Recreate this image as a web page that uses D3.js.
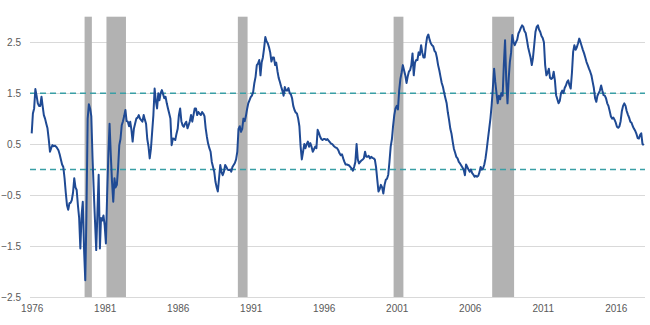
<!DOCTYPE html>
<html>
<head>
<meta charset="utf-8">
<script src="https://cdn.jsdelivr.net/npm/d3@7"></script>
<style>
  html, body { margin: 0; padding: 0; background: #ffffff; }
  svg { display: block; }
  .axis text { font-family: "Liberation Sans", Arial, sans-serif; font-size: 10px; fill: #595959; }
</style>
</head>
<body>
<svg id="chart" width="650" height="325"></svg>
<script>
// 10-year minus 2-year Treasury spread (percentage points), monthly, June 1976 – May 2018
const firstMonth = new Date(1976, 5, 1);
const spread = [
  /* 1976 Jun-Dec */ 0.71, 1.1, 1.2, 1.58, 1.45, 1.3, 1.25,
  /* 1977 */ 1.25, 1.43, 1.25, 1.07, 1.0, 0.9, 0.81, 0.6, 0.35, 0.42, 0.48, 0.46,
  /* 1978 */ 0.47, 0.45, 0.42, 0.38, 0.3, 0.2, 0.1, 0.05, -0.17, -0.45, -0.7, -0.79,
  /* 1979 */ -0.66, -0.65, -0.6, -0.45, -0.17, -0.35, -0.4, -0.7, -0.95, -1.55, -0.9, -0.63,
  /* 1980 */ -1.55, -2.17, -0.9, 1.0, 1.28, 1.2, 1.05, 0.22, -0.43, -1.0, -1.58, -0.85,
  /* 1981 */ -0.1, -1.55, -0.95, -1.0, -0.9, -1.1, -1.45, -0.5, 0.3, 0.9, 0.28, -0.24,
  /* 1982 */ -0.63, -0.17, -0.35, -0.3, 0.02, 0.48, 0.6, 0.87, 0.95, 1.05, 1.17, 0.95,
  /* 1983 */ 0.94, 0.85, 0.94, 0.78, 0.55, 0.8, 0.9, 1.0, 1.02, 1.07, 1.0, 0.97,
  /* 1984 */ 0.94, 1.07, 0.98, 0.9, 0.6, 0.45, 0.22, 0.41, 0.75, 1.07, 1.59, 1.35,
  /* 1985 */ 1.2, 1.5, 1.36, 1.5, 1.56, 1.48, 1.4, 1.43, 1.3, 1.2, 1.1, 1.0,
  /* 1986 */ 0.48, 0.61, 0.6, 0.58, 0.7, 0.8, 1.07, 1.2, 0.95, 0.87, 0.84, 0.9,
  /* 1987 */ 0.94, 0.81, 0.87, 0.95, 1.07, 0.94, 1.07, 1.2, 1.2, 1.07, 1.13, 1.1,
  /* 1988 */ 1.07, 1.13, 1.1, 1.05, 0.81, 0.64, 0.51, 0.42, 0.35, 0.15, 0.05, -0.04,
  /* 1989 */ -0.24, -0.35, -0.43, -0.17, 0.09, -0.05, -0.11, -0.04, 0.09, 0.05, 0.0, -0.01,
  /* 1990 */ 0.0, -0.04, 0.05, 0.09, 0.13, 0.2, 0.35, 0.8, 0.85, 0.74, 0.8, 1.0,
  /* 1991 */ 0.95, 1.05, 1.18, 1.3, 1.36, 1.42, 1.45, 1.52, 1.7, 1.82, 2.05, 2.08,
  /* 1992 */ 2.15, 1.85, 2.1, 2.2, 2.38, 2.6, 2.52, 2.48, 2.4, 2.3, 2.12, 2.2,
  /* 1993 */ 2.2, 2.05, 2.1, 1.93, 1.8, 1.72, 1.63, 1.55, 1.45, 1.62, 1.55, 1.55,
  /* 1994 */ 1.6, 1.5, 1.48, 1.4, 1.25, 1.17, 1.12, 1.1, 1.0, 0.85, 0.45, 0.2,
  /* 1995 */ 0.35, 0.5, 0.42, 0.5, 0.55, 0.45, 0.52, 0.45, 0.35, 0.4, 0.45, 0.42,
  /* 1996 */ 0.78, 0.72, 0.65, 0.6, 0.58, 0.6, 0.6, 0.58, 0.6, 0.57, 0.54, 0.51,
  /* 1997 */ 0.5, 0.47, 0.45, 0.43, 0.42, 0.38, 0.32, 0.28, 0.3, 0.22, 0.15, 0.1,
  /* 1998 */ 0.1, 0.09, 0.08, 0.05, 0.02, -0.02, 0.05, 0.15, 0.5, 0.2, 0.12, 0.15,
  /* 1999 */ 0.18, 0.2, 0.22, 0.35, 0.25, 0.25, 0.27, 0.22, 0.25, 0.23, 0.22, 0.2,
  /* 2000 */ 0.05, -0.2, -0.43, -0.38, -0.3, -0.35, -0.47, -0.3, -0.2, -0.18, -0.1, 0.15,
  /* 2001 */ 0.45, 0.6, 0.85, 1.07, 1.2, 1.25, 1.18, 1.55, 1.78, 1.9, 2.05, 1.95,
  /* 2002 */ 1.85, 1.7, 1.82, 1.92, 1.95, 2.05, 2.28, 1.85, 2.1, 2.15, 2.15, 2.3,
  /* 2003 */ 2.25, 2.44, 2.3, 2.2, 2.2, 2.44, 2.6, 2.65, 2.55, 2.48, 2.44, 2.42,
  /* 2004 */ 2.33, 2.3, 2.2, 2.05, 1.95, 1.82, 1.7, 1.62, 1.5, 1.4, 1.3, 1.12,
  /* 2005 */ 0.97, 0.8, 0.71, 0.55, 0.41, 0.33, 0.25, 0.22, 0.15, 0.12, 0.08, 0.04,
  /* 2006 */ 0.0, -0.11, 0.1, 0.05, 0.0, -0.04, 0.0, -0.07, -0.1, -0.14, -0.12, -0.14,
  /* 2007 */ -0.12, -0.05, 0.05, 0.0, 0.02, 0.1, 0.22, 0.4, 0.61, 0.8, 1.0, 1.26,
  /* 2008 */ 1.6, 1.98, 1.72, 1.5, 1.3, 1.45, 1.38, 1.5, 1.45, 2.05, 2.54, 1.75,
  /* 2009 */ 1.3, 1.8, 2.11, 2.3, 2.64, 2.5, 2.44, 2.5, 2.55, 2.67, 2.72, 2.78,
  /* 2010 */ 2.83, 2.8, 2.72, 2.68, 2.55, 2.4, 2.3, 2.2, 2.05, 2.2, 2.45, 2.7,
  /* 2011 */ 2.8, 2.83, 2.75, 2.7, 2.62, 2.58, 2.5, 2.05, 1.85, 1.9, 1.98, 1.8,
  /* 2012 */ 1.78, 1.8, 1.92, 1.75, 1.46, 1.38, 1.3, 1.35, 1.5, 1.55, 1.5, 1.6,
  /* 2013 */ 1.65, 1.72, 1.75, 1.65, 1.59, 1.9, 2.31, 2.44, 2.35, 2.4, 2.48, 2.57,
  /* 2014 */ 2.5, 2.42, 2.35, 2.28, 2.2, 2.11, 2.05, 1.98, 1.92, 1.85, 1.72, 1.6,
  /* 2015 */ 1.4, 1.33, 1.45, 1.5, 1.55, 1.65, 1.55, 1.46, 1.45, 1.4, 1.3, 1.25,
  /* 2016 */ 1.15, 1.04, 1.0, 1.02, 0.98, 0.92, 0.84, 0.82, 0.85, 0.95, 1.15, 1.25,
  /* 2017 */ 1.3, 1.25, 1.15, 1.08, 1.02, 0.94, 0.92, 0.85, 0.8, 0.76, 0.7, 0.62,
  /* 2018 Jan-May */ 0.61, 0.68, 0.71, 0.5, 0.48
];

// Recession periods (shaded)
const recessionStarts = ["1980-01-15", "1981-07-15", "1990-07-15", "2001-03-15", "2007-12-15"];
const recessionEnds   = ["1980-07-15", "1982-11-15", "1991-03-15", "2001-11-15", "2009-06-15"];

// Reference levels (dashed)
const referenceLevels = [1.5, 0];

// Axis labels
const yTicks = [2.5, 1.5, 0.5, -0.5, -1.5, -2.5];
const xTickYears = [1976, 1981, 1986, 1991, 1996, 2001, 2006, 2011, 2016];

const svg = d3.select("#chart");
const parse = d3.timeParse("%Y-%m-%d");

const series = spread.map((v, i) => ({ date: d3.timeMonth.offset(firstMonth, i), value: v }));

const x = d3.scaleTime()
  .domain([firstMonth, series[series.length - 1].date])
  .range([31.7, 643.7]);

const y = d3.scaleLinear()
  .domain([-2.5, 3.0])
  .range([297, 16.7]);

const plotLeft = 30, plotRight = 645;

// Horizontal gridlines
svg.append("g")
  .selectAll("line")
  .data(yTicks)
  .join("line")
  .attr("x1", plotLeft).attr("x2", plotRight)
  .attr("y1", d => Math.round(y(d)) + 0.5).attr("y2", d => Math.round(y(d)) + 0.5)
  .attr("stroke", "#d9d9d9")
  .attr("stroke-width", 1);

// Recession shading
svg.append("g")
  .selectAll("rect")
  .data(recessionStarts.map((s, i) => ({ start: parse(s), end: parse(recessionEnds[i]) })))
  .join("rect")
  .attr("x", d => x(d.start))
  .attr("width", d => x(d.end) - x(d.start))
  .attr("y", y(3.0))
  .attr("height", y(-2.5) - y(3.0))
  .attr("fill", "#b2b2b2");

// Dashed reference lines
svg.append("g")
  .selectAll("line")
  .data(referenceLevels)
  .join("line")
  .attr("x1", plotLeft).attr("x2", plotRight)
  .attr("y1", d => y(d)).attr("y2", d => y(d))
  .attr("stroke", "#3a9fa6")
  .attr("stroke-width", 1.5)
  .attr("stroke-dasharray", "6,4");

// Spread line
svg.append("path")
  .datum(series)
  .attr("fill", "none")
  .attr("stroke", "#1f4a94")
  .attr("stroke-width", 2)
  .attr("stroke-linejoin", "round")
  .attr("d", d3.line().x(d => x(d.date)).y(d => y(d.value)));

// Y axis labels
const yAxis = svg.append("g")
  .attr("class", "axis")
  .attr("transform", "translate(21,0)")
  .call(d3.axisLeft(y).tickValues(yTicks).tickSize(0).tickPadding(0).tickFormat(d3.format(".1f")));
yAxis.select(".domain").remove();

// X axis labels
const xAxis = svg.append("g")
  .attr("class", "axis")
  .attr("transform", "translate(0,302)")
  .call(d3.axisBottom(x)
    .tickValues(xTickYears.map(yr => new Date(yr, 5, 1)))
    .tickSize(0)
    .tickPadding(3)
    .tickFormat(d3.timeFormat("%Y")));
xAxis.select(".domain").remove();
</script>
</body>
</html>
